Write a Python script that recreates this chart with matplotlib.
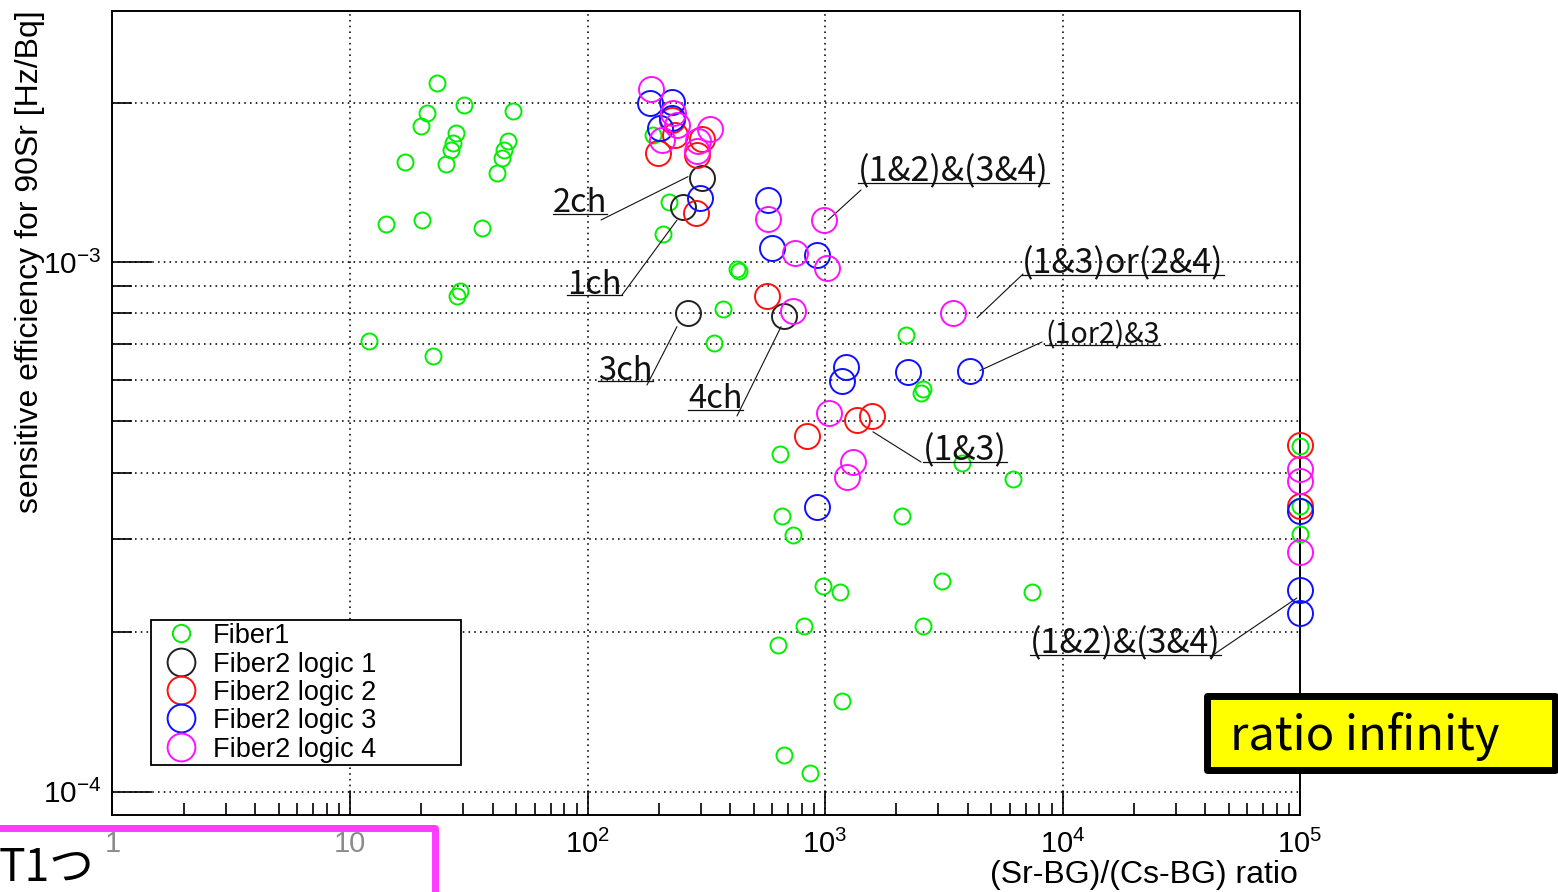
import matplotlib
matplotlib.use("Agg")
import matplotlib.pyplot as plt
from matplotlib.lines import Line2D
from matplotlib.patches import Rectangle
from matplotlib.ticker import FixedLocator, FixedFormatter, LogLocator, NullFormatter

plt.rcParams["font.family"] = ["Liberation Sans", "DejaVu Sans"]
plt.rcParams["mathtext.fontset"] = "custom"
plt.rcParams["mathtext.rm"] = "Liberation Sans"
plt.rcParams["mathtext.it"] = "Liberation Sans:italic"
plt.rcParams["mathtext.bf"] = "Liberation Sans:bold"

JP = ["Noto Sans CJK JP", "DejaVu Sans"]

# ---- data ----
fiber1_x = [23.2, 30.3, 48.7, 21.0, 20.0, 27.9, 27.1, 26.6, 25.3, 17.0, 46.1, 44.6,
            43.5, 41.5, 14.2, 20.1, 35.8, 29.0, 28.1, 12.0, 22.3, 188, 221, 207,
            425, 434, 371, 342, 2193, 2578, 2530, 3764, 6170, 646, 661, 2104, 735,
            977, 1156, 3119, 7462, 816, 2594, 636, 1182, 674, 865, 1e5, 1e5, 1e5]
fiber1_y = [2.18e-3, 1.98e-3, 1.93e-3, 1.915e-3, 1.81e-3, 1.75e-3, 1.68e-3, 1.63e-3,
            1.53e-3, 1.545e-3, 1.69e-3, 1.63e-3, 1.57e-3, 1.47e-3, 1.18e-3, 1.20e-3,
            1.16e-3, 8.80e-4, 8.61e-4, 7.10e-4, 6.66e-4, 1.74e-3, 1.30e-3, 1.13e-3,
            9.70e-4, 9.63e-4, 8.15e-4, 7.03e-4, 7.29e-4, 5.76e-4, 5.66e-4, 4.18e-4,
            3.90e-4, 4.34e-4, 3.32e-4, 3.32e-4, 3.05e-4, 2.44e-4, 2.38e-4, 2.50e-4,
            2.38e-4, 2.05e-4, 2.05e-4, 1.89e-4, 1.48e-4, 1.17e-4, 1.086e-4,
            4.49e-4, 3.46e-4, 3.06e-4]

logic1_x = [303, 253, 266, 672]
logic1_y = [1.44e-3, 1.27e-3, 8.01e-4, 7.90e-4]

logic2_x = [226, 234, 199, 303, 290, 286, 568, 837, 1360, 1573, 1e5, 1e5]
logic2_y = [1.856e-3, 1.74e-3, 1.61e-3, 1.71e-3, 1.59e-3, 1.237e-3, 8.64e-4,
            4.69e-4, 5.04e-4, 5.13e-4, 4.52e-4, 3.46e-4]

logic3_x = [183, 226, 202, 227, 298, 574, 596, 923, 1229, 1176, 2242, 4078, 923,
            1e5, 1e5, 1e5]
logic3_y = [2.00e-3, 2.01e-3, 1.79e-3, 1.87e-3, 1.32e-3, 1.31e-3, 1.063e-3,
            1.032e-3, 6.35e-4, 5.96e-4, 6.19e-4, 6.24e-4, 3.45e-4, 3.38e-4,
            2.40e-4, 2.17e-4]

logic4_x = [185, 230, 237, 205, 328, 293, 288, 574, 990, 747, 1023, 731, 3450,
            1042, 1306, 1234, 1e5, 1e5, 1e5]
logic4_y = [2.12e-3, 1.91e-3, 1.816e-3, 1.70e-3, 1.78e-3, 1.69e-3, 1.62e-3,
            1.205e-3, 1.20e-3, 1.04e-3, 9.74e-4, 8.07e-4, 8.01e-4, 5.19e-4,
            4.20e-4, 3.93e-4, 4.06e-4, 3.86e-4, 2.83e-4]

series_labels = ["Fiber1", "Fiber2 logic 1", "Fiber2 logic 2",
                 "Fiber2 logic 3", "Fiber2 logic 4"]
series_colors = ["#00ee00", "#222222", "#ff1010", "#1010ff", "#ff10ff"]

x_ticks = [1, 10, 1e2, 1e3, 1e4, 1e5]
x_tick_labels = ["1", "10", r"$\mathregular{10^{2}}$", r"$\mathregular{10^{3}}$",
                 r"$\mathregular{10^{4}}$", r"$\mathregular{10^{5}}$"]
y_ticks = [1e-4, 1e-3]
y_tick_labels = [r"$\mathregular{10^{-4}}$", r"$\mathregular{10^{-3}}$"]

# annotation text, text left px, underline y px, leader start px, leader target (data), size
notes = [
    ("2ch", 553, 214, (601, 220), (265, 1.45e-3), 23.5),
    ("1ch", 567, 295, (622, 295), (238, 1.20e-3), 23.5),
    ("3ch", 598, 381, (647, 385), (238, 7.55e-4), 23.5),
    ("4ch", 688, 410, (737, 416), (653, 7.55e-4), 23.5),
    ("(1&2)&(3&4)", 858, 183, (861, 190), (1029, 1.20e-3), 24.5),
    ("(1&3)or(2&4)", 1022, 275, (1023, 274), (4365, 7.85e-4), 24.5),
    ("(1or2)&3", 1045, 345, (1042, 342), (4494, 6.24e-4), 20.5),
    ("(1&3)", 923, 462, (921, 462), (1592, 4.78e-4), 24.5),
    ("(1&2)&(3&4)", 1030, 655, (1210, 657), (9.7e4, 2.32e-4), 24.5),
]

W, H = 1558, 892


def fx(px):
    return px / W


def fy(py):
    return 1 - py / H


fig = plt.figure(figsize=(W / 100, H / 100), dpi=100)
ax = fig.add_axes([fx(112.5), fy(815), (1300 - 112.5) / W, (815 - 11) / H])
ax.set_xscale("log")
ax.set_yscale("log")
ax.set_xlim(1, 1e5)
ax.set_ylim(9.03e-5, 2.98e-3)

xs = [fiber1_x, logic1_x, logic2_x, logic3_x, logic4_x]
ys = [fiber1_y, logic1_y, logic2_y, logic3_y, logic4_y]
for i, (x, y) in enumerate(zip(xs, ys)):
    ms = 11.5 if i == 0 else 18
    ax.plot(x, y, "o", ls="none", mfc="none", mec=series_colors[i], mew=1.4,
            ms=ms, clip_on=False, zorder=3 + i)

# axes styling, ROOT-like
for sp in ax.spines.values():
    sp.set_linewidth(1.4)
ax.xaxis.set_major_locator(FixedLocator(x_ticks))
ax.xaxis.set_major_formatter(FixedFormatter(x_tick_labels))
ax.xaxis.set_minor_locator(LogLocator(base=10, subs=range(2, 10), numticks=20))
ax.xaxis.set_minor_formatter(NullFormatter())
ax.yaxis.set_major_locator(FixedLocator(y_ticks))
ax.yaxis.set_major_formatter(FixedFormatter(y_tick_labels))
ax.yaxis.set_minor_locator(LogLocator(base=10, subs=range(2, 10), numticks=20))
ax.yaxis.set_minor_formatter(NullFormatter())

ax.tick_params(axis="x", which="major", direction="in", length=17, width=1.2,
               labelsize=21, pad=11)
ax.tick_params(axis="x", which="minor", direction="in", length=8.5, width=1.2)
ax.tick_params(axis="y", which="major", direction="in", length=28.8, width=1.2,
               labelsize=21.5, pad=8)
ax.tick_params(axis="y", which="minor", direction="in", length=14.4, width=1.2)
for lbl in ax.get_xticklabels()[:2]:
    lbl.set_color("#8c8c8c")

grid_style = dict(color="black", linestyle=(0, (1, 2.6)), linewidth=1.15)
ax.grid(True, which="major", axis="x", **grid_style)
ax.grid(True, which="both", axis="y", **grid_style)
ax.set_axisbelow(True)

fig.text(fx(30), fy(10), "sensitive efficiency for 90Sr [Hz/Bq]", rotation=90,
         ha="center", va="top", fontsize=23)
fig.text(fx(1298), fy(883), "(Sr-BG)/(Cs-BG) ratio", ha="right", va="baseline",
         fontsize=23)

# legend, drawn by hand to match the ROOT box
fig.add_artist(Rectangle((fx(151), fy(765)), (461 - 151) / W, (765 - 620) / H,
                         transform=fig.transFigure, fc="white", ec="black", lw=1.3))
row_y = [633, 662, 690, 718, 747]
for i, lab in enumerate(series_labels):
    ms = 12.5 if i == 0 else 20
    fig.add_artist(Line2D([fx(181)], [fy(row_y[i])], marker="o", ls="none",
                          mfc="none", mec=series_colors[i], mew=1.4, ms=ms,
                          transform=fig.transFigure))
    fig.text(fx(213), fy(row_y[i] + 10), lab, ha="left", va="baseline", fontsize=19.5)

# underlined annotation labels with leader lines
renderer = fig.canvas.get_renderer()
for text, x0, uy, start, target, size in notes:
    t = fig.text(fx(x0), fy(uy - 1.5), text, ha="left", va="baseline",
                 fontsize=size, family=JP, color="#111111")
    bb = t.get_window_extent(renderer)
    fig.add_artist(Line2D([bb.x0 / W, bb.x1 / W], [fy(uy), fy(uy)], color="#111111",
                          lw=0.9, transform=fig.transFigure))
    ax.annotate("", xy=target, xycoords="data", xytext=(start[0], H - start[1]),
                textcoords="figure pixels", annotation_clip=False,
                arrowprops=dict(arrowstyle="-", color="#111111", lw=0.8,
                                shrinkA=0, shrinkB=0))

# slide overlays
fig.add_artist(Rectangle((fx(1206.5), fy(769.5)), (1554.5 - 1206.5) / W,
                         (769.5 - 695.5) / H, transform=fig.transFigure,
                         fc="#ffff00", ec="black", lw=5, joinstyle="round"))
fig.text(fx(1230), fy(750), "ratio infinity", ha="left", va="baseline",
         fontsize=34, family=JP)

fig.add_artist(Rectangle((fx(-20), fy(910)), (435 + 20) / W, (910 - 827.5) / H,
                         transform=fig.transFigure, fc="none", ec="#ff3cff",
                         lw=5, joinstyle="round"))
fig.text(fx(-1), fy(881), "T1つ", ha="left", va="baseline", fontsize=32, family=JP)

fig.savefig("out.png", dpi=100)
